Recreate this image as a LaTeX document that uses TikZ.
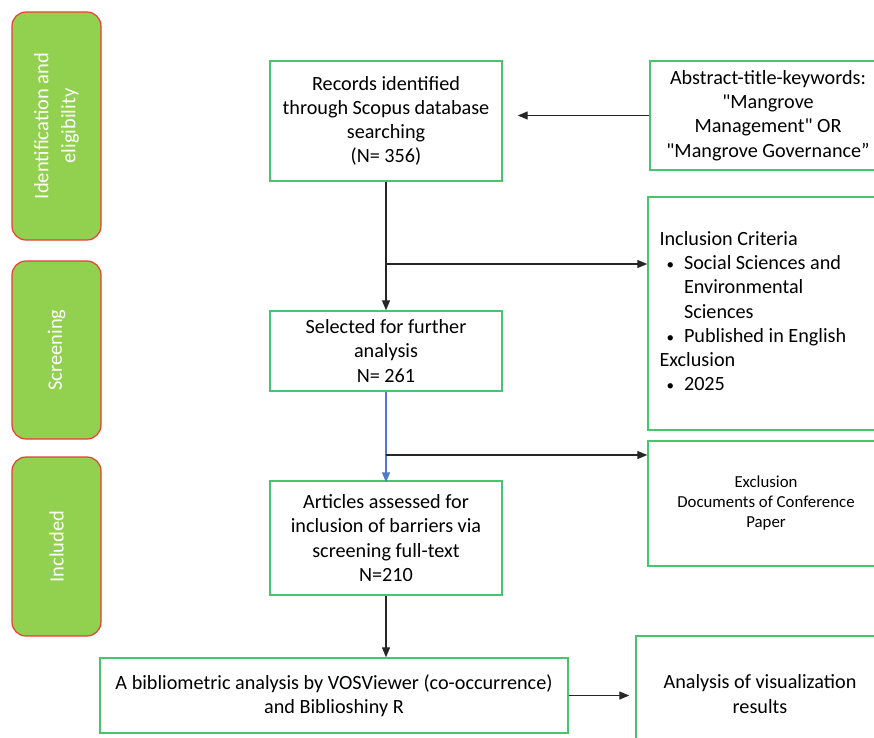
\documentclass[tikz,border=0pt]{standalone}
\usepackage{fontspec}
\setmainfont{Carlito}[Ligatures=TeXOff]
\usepackage{xcolor}
\usepackage{tikz}
\usetikzlibrary{arrows.meta, positioning, calc}

\definecolor{boxgreen}{RGB}{70,196,110}
\definecolor{stagegreen}{RGB}{146,208,80}
\definecolor{stagered}{RGB}{238,60,50}
\definecolor{linkblue}{RGB}{80,120,205}

\newcommand{\critbullet}{\hspace*{7pt}{\fontsize{15}{15}\selectfont\textbullet}\hspace{10pt}}
\newcommand{\critindent}{\hspace*{7pt}\hphantom{\fontsize{15}{15}\selectfont\textbullet}\hspace{10pt}}

\begin{document}
\begin{tikzpicture}[x=1pt, y=-1pt,
    stage/.style={draw=stagered, fill=stagegreen, line width=1.2pt, rounded corners=14pt,
      minimum height=89pt, text=white, rotate=90, align=center,
      font=\fontsize{20.5}{27}\selectfont},
    flowbox/.style={draw=boxgreen, line width=1.4pt, align=center,
      font=\fontsize{20.2}{24.2}\selectfont},
    arr/.style={-{Triangle[length=10pt, width=8pt]}, line width=1.2pt, black!85}]
    %\draw[step=50, gray!20, very thin] (0,0) grid (874,737);
    \clip (0,0) rectangle (874,737);
    \useasboundingbox (0,0) rectangle (874,737);

    % stages on the left
    \node[stage, minimum width=228pt] (ident) at (56.5, 126) {Identification and\\ eligibility};
    \node[stage, minimum width=178pt] (screen) at (56.5, 350) {Screening};
    \node[stage, minimum width=179pt] (incl) at (56.5, 546.5) {Included};

    % main flow
    \node[flowbox, minimum width=232pt, minimum height=120pt] (rec) at (386, 121)
      {Records identified\\ through Scopus database\\ searching\\ (N= 356)};
    \node[flowbox, minimum width=236pt, minimum height=109pt] (key) at (768, 115.5)
      {Abstract-title-keywords:\\ "Mangrove\\ Management" OR\\ "Mangrove Governance”};
    \node[flowbox, minimum width=232pt, minimum height=80pt] (sel) at (386, 351)
      {Selected for further\\ analysis\\ N= 261};
    \node[flowbox, minimum width=236pt, minimum height=233pt] (crit) at (766, 313.5) {};
    \node[anchor=north west, align=left, font=\fontsize{20.2}{24.2}\selectfont] (crittext) at (656, 228)
      {Inclusion Criteria\\
       \critbullet Social Sciences and\\
       \critindent Environmental\\
       \critindent Sciences\\
       \critbullet Published in English\\
       Exclusion\\
       \critbullet 2025};
    \node[flowbox, minimum width=236pt, minimum height=125pt, font=\fontsize{16.8}{20}\selectfont] (excl) at (766, 503.5)
      {Exclusion\\ Documents of Conference\\ Paper};
    \node[flowbox, minimum width=232pt, minimum height=114pt] (art) at (386, 538)
      {Articles assessed for\\ inclusion of barriers via\\ screening full-text\\ N=210};
    \node[flowbox, minimum width=468pt, minimum height=75pt] (bib) at (334, 695.5)
      {A bibliometric analysis by VOSViewer (co-occurrence)\\ and Biblioshiny R};
    \node[flowbox, minimum width=248pt, minimum height=116pt] (ana) at (760, 694)
      {Analysis of visualization\\ results};

    % connectors
    \coordinate (split1) at (386, 264);
    \coordinate (split2) at (386, 455);
    \draw[arr] (key.west) -- ([xshift=15pt]rec.east |- key.west);
    \draw[arr] (rec.south) -- (sel.north);
    \draw[arr] (split1) -- (crit.west |- split1);
    \draw[arr, linkblue] (sel.south) -- ([yshift=-2pt]art.north);
    \draw[arr] (split2) -- (excl.west |- split2);
    \draw[arr] (art.south) -- (art.south |- bib.north);
    \draw[arr, shorten >=6pt] (bib.east) -- (ana.west |- bib.east);
  \end{tikzpicture}
\end{document}
